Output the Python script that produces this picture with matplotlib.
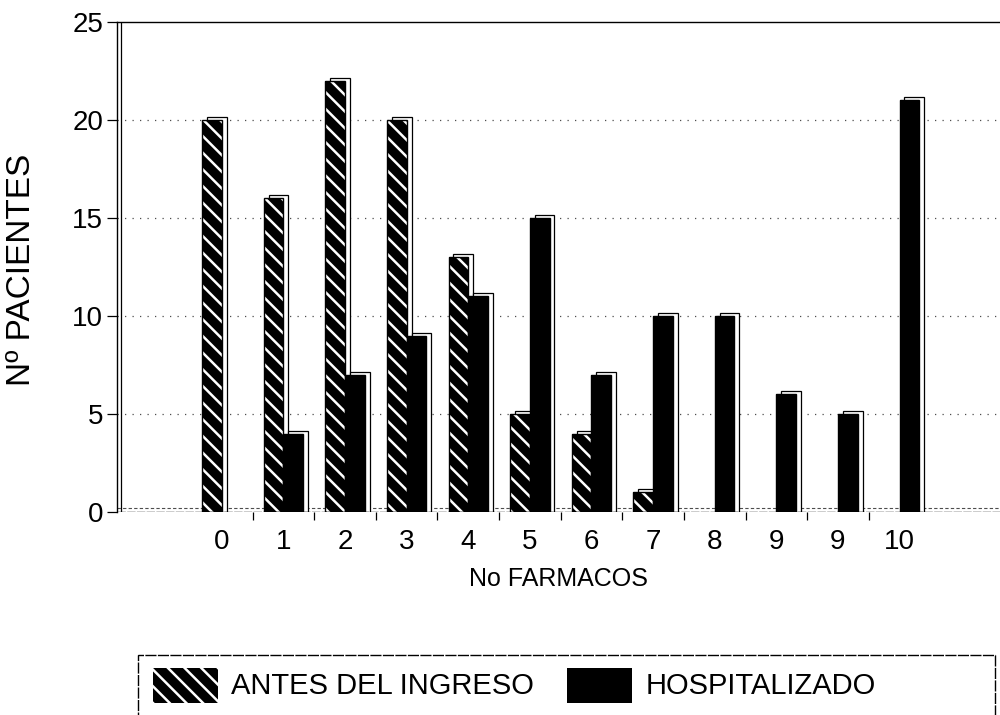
import matplotlib
matplotlib.use("Agg")
import matplotlib.pyplot as plt
from matplotlib.patches import Rectangle
import numpy as np

categories = ["0", "1", "2", "3", "4", "5", "6", "7", "8", "9", "9", "10"]
antes = [20, 16, 22, 20, 13, 5, 4, 1, 0, 0, 0, 0]
hospitalizado = [0, 4, 7, 9, 11, 15, 7, 10, 10, 6, 5, 21]
series_labels = ["ANTES DEL INGRESO", "HOSPITALIZADO"]
yticks = [0, 5, 10, 15, 20, 25]

plt.rcParams['font.family'] = ['Liberation Sans', 'DejaVu Sans']
plt.rcParams['hatch.linewidth'] = 1.8

fig = plt.figure(figsize=(10, 7.15), dpi=100)
W, H = 1000, 715
ax = fig.add_axes([117 / W, 1 - 512 / H, (1000 - 117) / W, (512 - 22) / H])

x = np.arange(len(categories))
bw = 0.32
dx, dy = 0.08, 0.15


def draw_bars(xpos, vals, hatched):
    for xi, v in zip(xpos, vals):
        if v <= 0:
            continue
        # 3D back face
        ax.add_patch(Rectangle((xi + dx, 0), bw, v + dy, facecolor='white',
                               edgecolor='black', lw=0.9, zorder=2))
        if hatched:
            ax.bar(xi, v, width=bw, align='edge', color='black', edgecolor='white',
                   hatch='\\\\', linewidth=0, zorder=3)
        else:
            ax.bar(xi, v, width=bw, align='edge', color='black', linewidth=0, zorder=3)
        ax.bar(xi, v, width=bw, align='edge', fill=False, edgecolor='black',
               linewidth=1.0, zorder=3)


for i in range(len(categories)):
    draw_bars([x[i] - bw], [antes[i]], True)
    draw_bars([x[i]], [hospitalizado[i]], False)

ax.set_xlim(-1.70, 12.63)
ax.set_ylim(0, 25)

# grid
for g in [5, 10, 15, 20]:
    ax.axhline(g, color='0.3', lw=0.9, linestyle=(0, (1, 5)), zorder=1)
# floor
ax.axhline(0, color='black', lw=1.0, linestyle=(0, (6, 1)), zorder=4)
ax.axhline(0.22, color='0.3', lw=0.8, linestyle=(0, (3, 2)), zorder=1)

ax.set_xticks(x)
ax.set_xticklabels(categories, fontsize=20)
ax.set_xticks(np.arange(0.5, 11, 1.0), minor=True)
ax.tick_params(axis='x', which='major', length=0, pad=12)
ax.tick_params(axis='x', which='minor', length=6, width=0.9, direction='out')
ax.set_yticks(yticks)
ax.set_yticklabels([str(t) for t in yticks], fontsize=20)
ax.tick_params(axis='y', length=7, width=0.9, direction='out', pad=3)

for s in ['right', 'bottom']:
    ax.spines[s].set_visible(False)
ax.spines['top'].set_linewidth(1.0)
ax.spines['left'].set_linewidth(1.0)
# double left spine
ax.axvline(-1.70 + 0.07, color='black', lw=0.9, zorder=5)

ax.set_xlabel("No FARMACOS", fontsize=18, labelpad=9)
ax.set_ylabel("Nº PACIENTES", fontsize=24)
ax.yaxis.set_label_coords(-0.091, 0.494)

# legend (manual)
def fx(px):
    return px / W


def fy(py):
    return 1 - py / H


fig.add_artist(Rectangle((fx(138), fy(718)), fx(995) - fx(138), fy(655) - fy(718),
                         transform=fig.transFigure, fill=False, edgecolor='black',
                         lw=1.0, linestyle=(0, (8, 1))))
fig.add_artist(Rectangle((fx(153), fy(703)), fx(218) - fx(153), fy(668) - fy(703),
                         transform=fig.transFigure, facecolor='black', edgecolor='white',
                         hatch='\\\\', lw=0))
fig.add_artist(Rectangle((fx(567), fy(703)), fx(632) - fx(567), fy(668) - fy(703),
                         transform=fig.transFigure, facecolor='black', edgecolor='black',
                         lw=0))
fig.text(fx(231), fy(686), series_labels[0], fontsize=21, va='center', ha='left')
fig.text(fx(646), fy(686), series_labels[1], fontsize=21, va='center', ha='left')

fig.savefig("out.png", dpi=100)
